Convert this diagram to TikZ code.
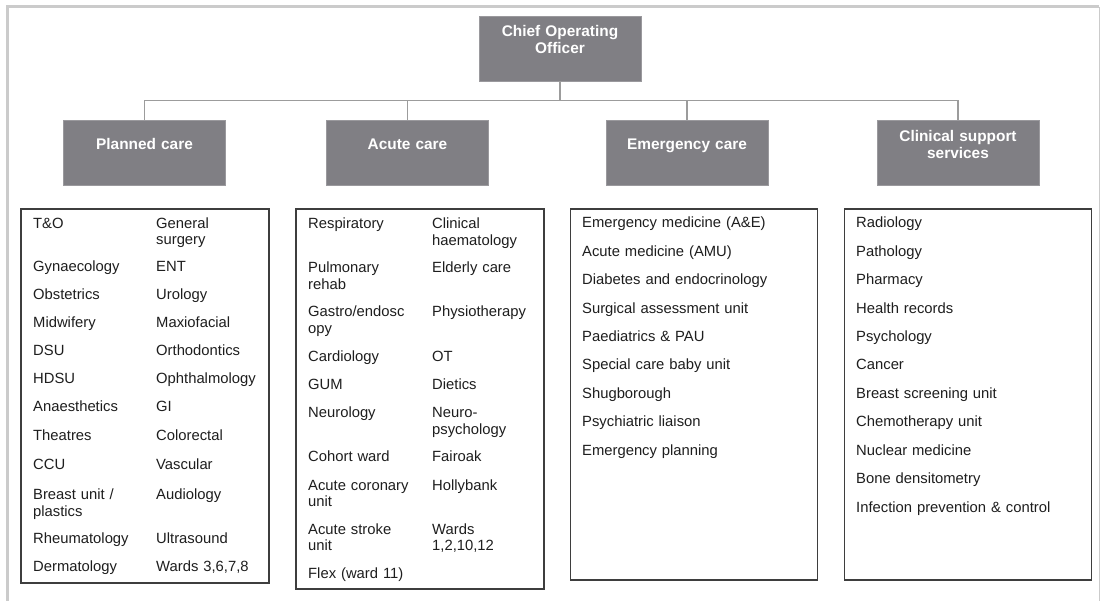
\documentclass[tikz,border=0pt]{standalone}
\usepackage{fontspec}
\setmainfont{Liberation Sans}
\definecolor{boxgray}{HTML}{807F84}
\definecolor{boxedge}{HTML}{9A999D}
\definecolor{linkgray}{HTML}{9C9C9C}
\definecolor{framegray}{HTML}{CBCBCB}
\definecolor{listedge}{HTML}{3E3E3E}
\definecolor{ink}{HTML}{1E1E1E}
\newcommand{\listfont}{\fontsize{14.8}{16.5}\selectfont}
\newcommand{\headfont}{\fontsize{15.4}{17}\selectfont\bfseries}
\begin{document}
\begin{tikzpicture}[x=1pt,y=-1pt,
  headbox/.style={fill=boxgray, draw=boxedge, line width=0.6pt,
    minimum width=162pt, minimum height=65pt, inner sep=0pt, outer sep=0pt},
  headtext/.style={anchor=base, text width=160pt, align=center,
    inner sep=0pt, text=white, font=\headfont},
  listbox/.style={draw=listedge, line width=1.5pt, fill=white,
    inner sep=0pt, outer sep=0pt, anchor=north west},
  item/.style={anchor=base west, text width=118pt, align=left,
    inner sep=0pt, text=ink, font=\listfont},
  wideitem/.style={item, text width=230pt},
  link/.style={draw=linkgray, line width=1.2pt}]

\useasboundingbox (0,0) rectangle (1101,601);

% page frame
\draw[framegray, line width=3pt] (7.5,601) -- (7.5,7) -- (1099,7);
\draw[framegray, line width=1pt] (1099,7) -- (1099,601);

% top level and divisions
\node[headbox] (coo) at (560,48.5) {};
\node[headtext] (coot) at (560,37) {Chief Operating\\Officer};

\node[headbox] (pc) at (144.5,152.5) {};
\node[headbox] (ac) at (407.5,152.5) {};
\node[headbox] (ec) at (687,152.5) {};
\node[headbox] (cs) at (958,152.5) {};
\node[headtext] (pct) at (144.5,150) {Planned care};
\node[headtext] (act) at (407.5,150) {Acute care};
\node[headtext] (ect) at (687,150) {Emergency care};
\node[headtext] (cst) at (958,141.5) {Clinical support\\services};

% connectors
\coordinate (bus) at (560,100.5);
\draw[link] (coo.south) -- (bus);
\draw[link] (pc.north) |- (bus) -| (cs.north);
\draw[link] (ac.north) -- (ac.north |- bus);
\draw[link] (ec.north) -- (ec.north |- bus);

% department boxes
\node[listbox, minimum width=248pt, minimum height=374pt] (pl) at (21,209) {};
\node[listbox, minimum width=248pt, minimum height=380pt] (al) at (296,209) {};
\node[listbox, minimum width=247pt, minimum height=371pt] (el) at (570.5,209) {};
\node[listbox, minimum width=247pt, minimum height=371pt] (cl) at (844.5,209) {};

% planned care
\node[item] (p1a) at (33,228.5) {T\&O};
\node[item] (p1b) at (156,228.5) {General\\surgery};
\node[item] (p2a) at (33,272) {Gynaecology};
\node[item] (p2b) at (156,272) {ENT};
\node[item] (p3a) at (33,300) {Obstetrics};
\node[item] (p3b) at (156,300) {Urology};
\node[item] (p4a) at (33,328) {Midwifery};
\node[item] (p4b) at (156,328) {Maxiofacial};
\node[item] (p5a) at (33,356) {DSU};
\node[item] (p5b) at (156,356) {Orthodontics};
\node[item] (p6a) at (33,384) {HDSU};
\node[item] (p6b) at (156,384) {Ophthalmology};
\node[item] (p7a) at (33,412) {Anaesthetics};
\node[item] (p7b) at (156,412) {GI};
\node[item] (p8a) at (33,441) {Theatres};
\node[item] (p8b) at (156,441) {Colorectal};
\node[item] (p9a) at (33,470) {CCU};
\node[item] (p9b) at (156,470) {Vascular};
\node[item] (p10a) at (33,500) {Breast unit /\\plastics};
\node[item] (p10b) at (156,500) {Audiology};
\node[item] (p11a) at (33,543) {Rheumatology};
\node[item] (p11b) at (156,543) {Ultrasound};
\node[item] (p12a) at (33,571) {Dermatology};
\node[item] (p12b) at (156,571) {Wards 3,6,7,8};

% acute care
\node[item] (a1a) at (308,229) {Respiratory};
\node[item] (a1b) at (432,229) {Clinical\\haematology};
\node[item] (a2a) at (308,273) {Pulmonary\\rehab};
\node[item] (a2b) at (432,273) {Elderly care};
\node[item] (a3a) at (308,317) {Gastro/endosc\\opy};
\node[item] (a3b) at (432,317) {Physiotherapy};
\node[item] (a4a) at (308,362) {Cardiology};
\node[item] (a4b) at (432,362) {OT};
\node[item] (a5a) at (308,390) {GUM};
\node[item] (a5b) at (432,390) {Dietics};
\node[item] (a6a) at (308,418) {Neurology};
\node[item] (a6b) at (432,418) {Neuro-\\psychology};
\node[item] (a7a) at (308,462) {Cohort ward};
\node[item] (a7b) at (432,462) {Fairoak};
\node[item] (a8a) at (308,490) {Acute coronary\\unit};
\node[item] (a8b) at (432,490) {Hollybank};
\node[item] (a9a) at (308,534) {Acute stroke\\unit};
\node[item] (a9b) at (432,534) {Wards\\1,2,10,12};
\node[item] (a10a) at (308,578) {Flex (ward 11)};

% emergency care
\node[wideitem] (e1) at (582,228.0) {Emergency medicine (A\&E)};
\node[wideitem] (e2) at (582,256.4) {Acute medicine (AMU)};
\node[wideitem] (e3) at (582,284.8) {Diabetes and endocrinology};
\node[wideitem] (e4) at (582,313.2) {Surgical assessment unit};
\node[wideitem] (e5) at (582,341.6) {Paediatrics \& PAU};
\node[wideitem] (e6) at (582,370.0) {Special care baby unit};
\node[wideitem] (e7) at (582,398.4) {Shugborough};
\node[wideitem] (e8) at (582,426.8) {Psychiatric liaison};
\node[wideitem] (e9) at (582,455.2) {Emergency planning};

% clinical support services
\node[wideitem] (c1) at (856,228.0) {Radiology};
\node[wideitem] (c2) at (856,256.4) {Pathology};
\node[wideitem] (c3) at (856,284.8) {Pharmacy};
\node[wideitem] (c4) at (856,313.2) {Health records};
\node[wideitem] (c5) at (856,341.6) {Psychology};
\node[wideitem] (c6) at (856,370.0) {Cancer};
\node[wideitem] (c7) at (856,398.4) {Breast screening unit};
\node[wideitem] (c8) at (856,426.8) {Chemotherapy unit};
\node[wideitem] (c9) at (856,455.2) {Nuclear medicine};
\node[wideitem] (c10) at (856,483.6) {Bone densitometry};
\node[wideitem] (c11) at (856,512.0) {Infection prevention \& control};

\end{tikzpicture}
\end{document}
